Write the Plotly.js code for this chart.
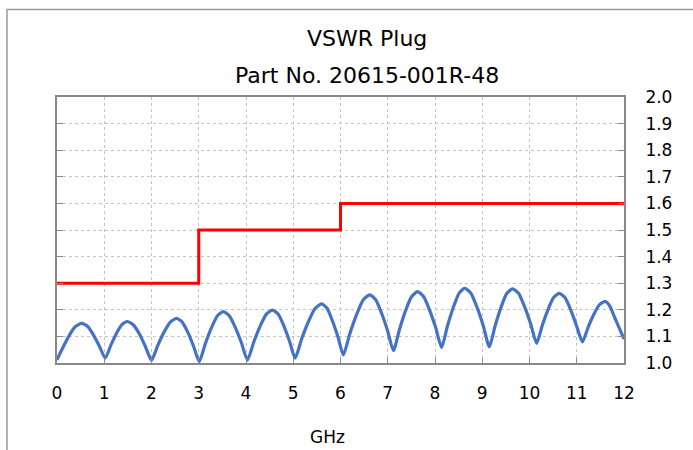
<!DOCTYPE html>
<html>
<head>
<meta charset="utf-8">
<script src="https://cdn.plot.ly/plotly-3.0.1.min.js"></script>
<style>
  html, body { margin: 0; padding: 0; background: #fff; }
  #chart { width: 693px; height: 450px; }
</style>
</head>
<body>
<div id="chart"></div>
<script>
// Measured VSWR (GHz, VSWR)
const freqGHz = [
  0.00, 0.13, 0.26, 0.39, 0.52, 0.645, 0.77, 0.895,
  1.02, 1.138, 1.255, 1.373, 1.49, 1.618, 1.745, 1.873,
  2.00, 2.133, 2.265, 2.398, 2.53, 2.65, 2.77, 2.89,
  3.01, 3.138, 3.265, 3.393, 3.52, 3.648, 3.775, 3.903,
  4.03, 4.163, 4.295, 4.428, 4.56, 4.68, 4.80, 4.92,
  5.04, 5.18, 5.32, 5.46, 5.60, 5.715, 5.83, 5.945,
  6.06, 6.20, 6.34, 6.48, 6.62, 6.745, 6.87, 6.995,
  7.12, 7.248, 7.375, 7.503, 7.63, 7.758, 7.885, 8.013,
  8.14, 8.263, 8.385, 8.508, 8.63, 8.76, 8.89, 9.02,
  9.15, 9.273, 9.395, 9.518, 9.64, 9.768, 9.895, 10.023,
  10.15, 10.27, 10.39, 10.51, 10.63, 10.75, 10.87, 10.99,
  11.12, 11.24, 11.36, 11.48, 11.60, 11.70, 11.80, 11.90,
  12.00
];
const vswrMeasured = [
  1.012, 1.060, 1.104, 1.137, 1.149, 1.138, 1.106, 1.064,
  1.018, 1.066, 1.110, 1.144, 1.156, 1.143, 1.109, 1.061,
  1.010, 1.066, 1.116, 1.154, 1.168, 1.154, 1.115, 1.063,
  1.005, 1.072, 1.131, 1.177, 1.193, 1.177, 1.133, 1.076,
  1.011, 1.078, 1.137, 1.183, 1.199, 1.184, 1.140, 1.083,
  1.018, 1.092, 1.155, 1.205, 1.222, 1.206, 1.158, 1.099,
  1.030, 1.112, 1.182, 1.237, 1.256, 1.238, 1.187, 1.122,
  1.046, 1.126, 1.196, 1.249, 1.268, 1.250, 1.199, 1.134,
  1.058, 1.139, 1.208, 1.262, 1.281, 1.262, 1.209, 1.141,
  1.061, 1.140, 1.208, 1.261, 1.279, 1.262, 1.212, 1.148,
  1.074, 1.141, 1.200, 1.246, 1.262, 1.246, 1.201, 1.143,
  1.079, 1.134, 1.182, 1.219, 1.232, 1.214, 1.172, 1.131,
  1.090
];

// Specification limit (step)
const limitGHz = [0, 3, 6, 12];
const limitVSWR = [1.3, 1.5, 1.6, 1.6];

// Text
const titleLine1 = "VSWR Plug";
const titleLine2 = "Part No. 20615-001R-48";
const xAxisLabel = "GHz";

const FONT = "DejaVu Sans, Verdana, sans-serif";

const traces = [
  {
    x: limitGHz, y: limitVSWR, type: "scatter", mode: "lines",
    line: { color: "#FF0000", width: 3, shape: "hv" },
    hoverinfo: "skip", showlegend: false
  },
  {
    x: freqGHz, y: vswrMeasured, type: "scatter", mode: "lines",
    line: { color: "#4472C4", width: 3.2, shape: "spline", smoothing: 0.6 },
    showlegend: false
  }
];

const layout = {
  width: 693, height: 450,
  margin: { l: 57, r: 69, t: 97, b: 87, pad: 0 },
  paper_bgcolor: "#fff", plot_bgcolor: "#fff",
  font: { family: FONT, size: 17, color: "#000" },
  showlegend: false,
  xaxis: {
    range: [0, 12], dtick: 1, tick0: 0,
    showline: true, linecolor: "#888", linewidth: 2, mirror: true,
    showgrid: true, gridcolor: "#c4c4c4", griddash: "dot", gridwidth: 1,
    ticks: "inside", ticklen: 5, tickcolor: "#888", tickwidth: 1,
    ticklabelstandoff: 14,
    zeroline: false, fixedrange: true,
    tickfont: { family: FONT, size: 17, color: "#000" }
  },
  yaxis: {
    range: [1.0, 2.0], dtick: 0.1, tick0: 1.0, tickformat: ".1f",
    side: "right",
    showline: true, linecolor: "#888", linewidth: 2, mirror: "ticks",
    showgrid: true, gridcolor: "#c4c4c4", griddash: "dot", gridwidth: 1,
    ticks: "inside", ticklen: 6, tickcolor: "#888", tickwidth: 1,
    ticklabelstandoff: 16,
    zeroline: false, fixedrange: true,
    tickfont: { family: FONT, size: 17, color: "#000" }
  },
  annotations: [
    { text: titleLine1, xref: "paper", yref: "paper", x: 0.547, y: (363 - 38) / 266,
      xanchor: "center", yanchor: "middle", showarrow: false,
      font: { family: FONT, size: 22, color: "#000" } },
    { text: titleLine2, xref: "paper", yref: "paper", x: 0.547, y: (363 - 75) / 266,
      xanchor: "center", yanchor: "middle", showarrow: false,
      font: { family: FONT, size: 22, color: "#000" } },
    { text: xAxisLabel, xref: "paper", yref: "paper", x: (327 - 57) / 567, y: (363 - 437) / 266,
      xanchor: "center", yanchor: "middle", showarrow: false,
      font: { family: FONT, size: 17, color: "#000" } }
  ],
  shapes: [
    { type: "path", xref: "paper", yref: "paper",
      path: "M -0.0882,-0.4 L -0.0882,1.329 L 1.3,1.329",
      line: { color: "#9a9a9a", width: 1.5 } }
  ]
};

Plotly.newPlot("chart", traces, layout, { displayModeBar: false, staticPlot: true });
</script>
</body>
</html>
